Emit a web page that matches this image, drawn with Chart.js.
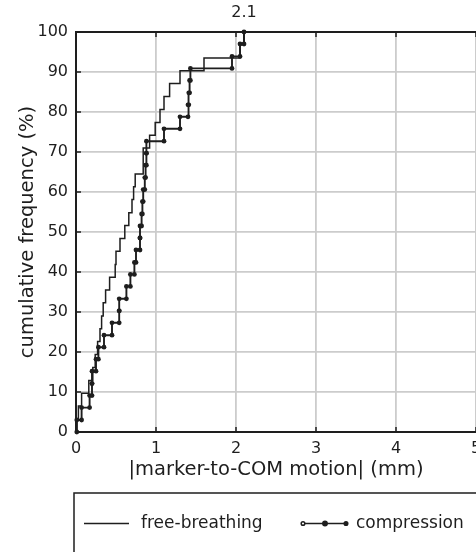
<!DOCTYPE html>
<html>
<head>
<meta charset="utf-8">
<title>marker-to-COM motion CDF</title>
<script src="https://cdn.jsdelivr.net/npm/chart.js@4.4.1/dist/chart.umd.min.js"></script>
<style>
  html, body { margin: 0; padding: 0; background: #fff; }
</style>
</head>
<body>
<canvas id="cdf" width="476" height="552"></canvas>
<script>
// |marker-to-COM motion| in mm, sorted, one entry per step of each curve
const fbMotion = [0.01, 0.03, 0.07, 0.16, 0.21, 0.24, 0.27, 0.30, 0.32, 0.34,
                  0.37, 0.42, 0.49, 0.50, 0.55, 0.61, 0.66, 0.70, 0.72, 0.74,
                  0.84, 0.84, 0.92, 0.99, 1.05, 1.10, 1.17, 1.30, 1.60, 2.05, 2.10];
const fbFreq = [3.2, 6.5, 9.7, 12.9, 16.1, 19.4, 22.6, 25.8, 29.0, 32.3,
                35.5, 38.7, 41.9, 45.2, 48.4, 51.6, 54.8, 58.1, 61.3, 64.5,
                67.7, 71.0, 74.2, 77.4, 80.6, 83.9, 87.1, 90.3, 93.5, 96.8, 100];

const cmMotion = [0.01, 0.07, 0.17, 0.20, 0.20, 0.25, 0.28, 0.35, 0.45, 0.54,
                  0.54, 0.63, 0.68, 0.73, 0.75, 0.80, 0.80, 0.82, 0.83, 0.84,
                  0.86, 0.87, 0.88, 0.88, 1.10, 1.30, 1.40, 1.41, 1.42, 1.43,
                  1.95, 2.05, 2.10];
const cmFreq = [3.0, 6.1, 9.1, 12.1, 15.2, 18.2, 21.2, 24.2, 27.3, 30.3,
                33.3, 36.4, 39.4, 42.4, 45.5, 48.5, 51.5, 54.5, 57.6, 60.6,
                63.6, 66.7, 69.7, 72.7, 75.8, 78.8, 81.8, 84.8, 87.9, 90.9,
                93.9, 97.0, 100];

const seriesNames = ['free-breathing', 'compression'];
const xTicks = [0, 1, 2, 3, 4, 5];
const yTicks = [0, 10, 20, 30, 40, 50, 60, 70, 80, 90, 100];

const FONT = "'DejaVu Sans', sans-serif";
const INK = '#1e1e1e';

// turn sorted samples into stair vertices: bottom and top of every riser
function stairs(xs, ys) {
    const pts = [];
    let prev = 0;
    xs.forEach((x, i) => {
        pts.push({ x: x, y: prev });
        pts.push({ x: x, y: ys[i] });
        prev = ys[i];
    });
    return pts;
}

const maxMotion = Math.max(...fbMotion, ...cmMotion);

// closed top edge, inward tick marks, max label and the boxed legend
const framePlugin = {
    id: 'frame',
    afterDraw(chart) {
        const { ctx, chartArea: a, scales: { x, y } } = chart;
        ctx.save();

        ctx.strokeStyle = INK;
        ctx.lineWidth = 2;
        ctx.beginPath();
        ctx.moveTo(a.left - 1, a.top);
        ctx.lineTo(a.right, a.top);
        ctx.stroke();

        ctx.lineWidth = 1.5;
        ctx.beginPath();
        xTicks.forEach(v => {
            const px = x.getPixelForValue(v);
            ctx.moveTo(px, a.bottom); ctx.lineTo(px, a.bottom - 5);
            ctx.moveTo(px, a.top); ctx.lineTo(px, a.top + 5);
        });
        yTicks.forEach(v => {
            const py = y.getPixelForValue(v);
            ctx.moveTo(a.left, py); ctx.lineTo(a.left + 5, py);
        });
        ctx.stroke();

        // max value above the frame
        ctx.fillStyle = INK;
        ctx.font = '16px ' + FONT;
        ctx.textAlign = 'center';
        ctx.textBaseline = 'middle';
        ctx.fillText(maxMotion.toFixed(1), x.getPixelForValue(maxMotion), 13);

        // legend box, runs off the bottom/right edge
        const top = 493;
        ctx.lineWidth = 1.5;
        ctx.strokeStyle = INK;
        ctx.strokeRect(a.left - 2, top, 420, 120);

        const ly = 523.5;
        ctx.textAlign = 'left';
        ctx.font = '17px ' + FONT;

        ctx.lineWidth = 1.3;
        ctx.beginPath();
        ctx.moveTo(84, ly); ctx.lineTo(129, ly);
        ctx.stroke();
        ctx.fillText(seriesNames[0], 141, ly);

        ctx.lineWidth = 1.5;
        ctx.beginPath();
        ctx.moveTo(303, ly); ctx.lineTo(346, ly);
        ctx.stroke();
        [303, 325, 346].forEach((px, i) => {
            ctx.beginPath();
            ctx.arc(px, ly, i === 1 ? 2.2 : 1.8, 0, Math.PI * 2);
            ctx.fillStyle = i === 0 ? '#fff' : INK;
            ctx.fill();
            ctx.stroke();
        });
        ctx.fillStyle = INK;
        ctx.fillText(seriesNames[1], 356, ly);

        ctx.restore();
    }
};

new Chart(document.getElementById('cdf'), {
    type: 'line',
    data: {
        datasets: [{
            label: seriesNames[0],
            data: stairs(fbMotion, fbFreq),
            borderColor: INK,
            borderWidth: 1.5,
            pointRadius: 0,
            clip: 6
        }, {
            label: seriesNames[1],
            data: stairs(cmMotion, cmFreq),
            borderColor: INK,
            borderWidth: 1.9,
            pointRadius: 2.4,
            pointBackgroundColor: INK,
            pointBorderColor: INK,
            pointBorderWidth: 0,
            clip: 6
        }]
    },
    options: {
        responsive: false,
        animation: false,
        layout: { autoPadding: false, padding: { top: 32, right: 0, bottom: 60, left: 0 } },
        plugins: {
            legend: { display: false },
            tooltip: { enabled: false }
        },
        scales: {
            x: {
                type: 'linear',
                min: 0,
                max: 5,
                afterBuildTicks: s => { s.ticks = xTicks.map(v => ({ value: v })); },
                afterFit: s => { s.height = 60; s.paddingLeft = 0; s.paddingRight = 0; },
                grid: { color: '#cccccc', lineWidth: 1.8, drawTicks: false },
                border: { color: INK, width: 2 },
                ticks: { color: INK, padding: 7, font: { family: FONT, size: 16 }, maxRotation: 0 },
                title: {
                    display: true,
                    text: '|marker-to-COM motion| (mm)',
                    color: INK,
                    font: { family: FONT, size: 19.5 },
                    padding: { top: 0, bottom: 10 }
                }
            },
            y: {
                type: 'linear',
                min: 0,
                max: 100,
                afterBuildTicks: s => { s.ticks = yTicks.map(v => ({ value: v })); },
                afterFit: s => { s.width = 76; s.paddingTop = 0; s.paddingBottom = 0; },
                grid: { color: '#cccccc', lineWidth: 1.8, drawTicks: false },
                border: { color: INK, width: 2 },
                ticks: { color: INK, padding: 8, font: { family: FONT, size: 16 } },
                title: {
                    display: true,
                    text: 'cumulative frequency (%)',
                    color: INK,
                    font: { family: FONT, size: 19.5 },
                    padding: { top: 16, bottom: 0 }
                }
            }
        }
    },
    plugins: [framePlugin]
});
</script>
</body>
</html>
